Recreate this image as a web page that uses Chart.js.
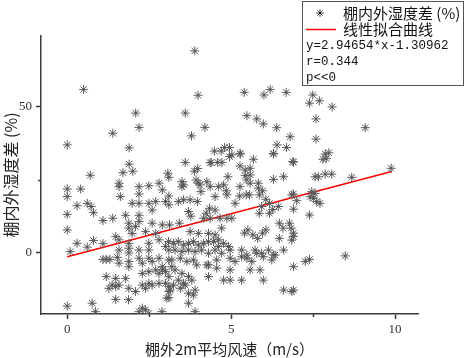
<!DOCTYPE html>
<html>
<head>
<meta charset="utf-8">
<script src="https://cdn.jsdelivr.net/npm/chart.js@4/dist/chart.umd.min.js"></script>
<style>
  body { margin: 0; background: #fff; }
  canvas { display: block; }
</style>
</head>
<body>
<canvas id="myChart" width="467" height="358"></canvas>
<script>
// 棚外2m平均风速 (m/s) 和 棚内外湿度差 (%)
const windX = [
  3.89, 0.50, 3.99, 2.09, 3.60, 2.19, 4.20, 1.39, 3.79, 0.00, 1.89, 4.49, 4.70, 4.80, 4.95, 4.95,
  1.89, 3.60, 4.39, 4.59, 4.72, 1.70, 2.00, 0.70, 3.07, 3.88, 3.98,
  5.40, 6.00, 6.19, 6.68, 7.49, 7.39, 7.69, 8.08, 5.48, 5.78, 5.98, 6.39, 7.59, 9.09, 6.80, 7.59,
  6.69, 6.29, 5.68, 5.28, 6.90, 7.87, 7.98, 7.80, 7.90,
  5.27, 5.43, 5.58, 5.43, 5.58, 5.48, 5.58, 5.27, 5.83, 5.83, 4.90,
  6.29, 6.60, 7.56, 7.66, 7.87, 8.07, 8.68, 9.88,
  0.00, 0.00, 0.41, 1.58, 1.58, 2.19, 2.49, 2.80, 3.10, 1.62, 2.19, 2.19, 1.98, 0.30, 0.61, 0.73,
  0.80, 0.00, 0.00, 1.09, 1.39, 1.78, 2.19, 1.88, 1.88, 2.08, 1.98, 2.19, 2.59, 2.90, 2.70, 3.00,
  3.10, 2.90, 3.10, 2.59, 2.49, 1.58, 1.48, 2.39, 2.70, 0.09, 0.30, 0.61, 0.80, 1.09, 1.88, 1.88,
  1.58, 1.88, 2.19, 2.49, 2.80, 3.00, 2.49, 3.10, 1.09, 1.19, 1.30, 1.53, 1.58, 1.88, 1.88, 2.19,
  2.29, 2.49, 2.59, 2.80, 2.90, 3.10, 2.29, 2.49, 2.70, 2.90, 1.19, 1.48, 1.78, 1.37, 1.48, 1.58,
  1.27, 1.88, 2.08, 2.29, 2.39, 2.49, 2.59, 2.80, 3.00, 3.10, 3.10, 2.80, 3.00, 1.48, 0.76, 0.00,
  0.86, 2.29, 2.39, 2.19, 2.49, 3.10, 3.10, 1.87, 2.89,
  3.50, 3.50, 3.55, 3.93, 4.00, 4.05, 4.26, 4.36, 4.61, 4.77, 4.85, 4.87, 4.51, 4.08, 3.97, 3.75,
  3.55, 3.39, 4.34, 4.51, 4.24, 3.70, 3.77, 3.42, 3.12, 4.16, 4.36, 4.66, 4.87, 5.02, 5.12, 5.26,
  5.46, 5.56, 5.86, 5.96, 6.06, 6.17, 5.93, 5.86, 6.17, 6.27, 6.44, 6.85, 6.78, 6.83, 6.90, 6.47,
  6.58, 6.47, 6.06, 5.96, 5.81, 5.51, 5.41, 5.66,
  3.75, 4.00, 4.31, 4.51, 4.71, 4.61,
  3.09, 3.24, 3.39, 3.55, 3.70, 3.85, 4.00, 4.16, 4.31, 4.46, 4.61, 4.77, 4.92, 3.29, 3.50, 3.70,
  3.90, 4.10, 4.31, 4.51, 4.71, 4.97, 5.32, 5.48, 5.73, 5.93, 6.14, 6.34, 6.60,
  3.19, 3.45, 3.65, 3.85, 3.95, 4.31, 4.56, 4.97, 5.12, 5.32, 5.48, 5.78, 5.98, 6.29, 6.90,
  3.19, 3.29, 3.50, 3.70, 3.39, 3.55, 3.45, 3.80, 3.60, 3.90, 3.70, 3.24, 3.14, 3.85,
  4.26, 4.56, 4.97, 4.31, 4.77, 4.97, 5.32, 5.58, 5.88, 5.98, 5.63, 6.24,
  3.04, 3.70, 3.90, 6.60, 6.90,
  6.90, 7.00, 6.90, 7.46, 7.56, 7.41, 7.51, 7.61, 7.71, 7.39, 6.90, 6.85, 8.48, 7.26, 7.39, 6.85,
  5.02, 5.27, 4.36, 6.29, 6.88, 6.40
];
const rhDiff = [
  69.2, 56.0, 54.0, 47.9, 47.9, 43.0, 43.0, 41.0, 40.1, 37.0, 36.0, 34.9, 34.9, 36.1, 36.1, 33.0,
  30.4, 31.0, 31.0, 31.0, 31.0, 27.5, 28.0, 26.6, 27.3, 28.0, 28.9,
  55.0, 54.1, 56.0, 55.0, 54.1, 51.3, 52.1, 50.0, 47.0, 45.9, 44.2, 42.9, 45.9, 42.9, 39.8, 39.0,
  36.1, 33.9, 32.1, 33.9, 31.1, 33.9, 34.3, 32.1, 32.3,
  29.8, 28.4, 29.0, 26.5, 26.7, 25.0, 23.9, 22.7, 23.9, 22.2, 26.1,
  25.2, 26.1, 26.1, 26.1, 27.0, 27.0, 25.9, 29.0,
  21.9, 19.3, 21.9, 23.9, 22.7, 22.7, 23.0, 23.9, 25.9, 19.3, 20.2, 17.0, 17.0, 16.2, 17.0, 15.9,
  13.8, 13.2, 7.9, 11.1, 11.9, 12.9, 12.9, 10.2, 8.5, 9.0, 6.7, 10.8, 10.2, 9.6, 17.6, 17.6,
  16.5, 21.6, 19.5, 14.7, 17.0, 4.5, 5.6, 7.3, 6.7, 0.45, 3.3, 2.0, 4.3, 3.2, 3.3, 1.6,
  1.0, 0.0, 1.0, 3.3, 4.5, 2.2, 1.0, 1.0, -2.2, -2.2, -2.2, -1.5, -3.5, -2.9, -4.7, -1.8,
  -3.5, -1.8, -2.9, -1.8, -4.7, -2.4, -7.0, -6.4, -5.8, -5.8, -8.1, -8.7, -8.7, -11.0, -11.5, -11.0,
  -12.1, -12.1, -13.2, -11.0, -12.1, -10.4, -11.0, -10.4, -10.4, -11.5, -8.1, -7.0, -6.4, -15.9, -17.2, -18.2,
  -20.1, -18.9, -19.5, -20.1, -20.7, -15.3, -13.2, -16.0, -20.1,
  24.4, 22.7, 23.3, 25.0, 23.9, 23.3, 24.4, 22.7, 22.7, 23.3, 21.3, 19.9, 19.3, 21.0, 17.6, 18.2,
  18.2, 17.6, 15.3, 14.7, 13.6, 14.2, 12.6, 10.2, 9.6, 11.9, 11.9, 11.9, 11.9, 11.9, 17.0, 19.5,
  19.9, 19.9, 19.9, 21.3, 18.4, 17.0, 15.9, 13.6, 13.6, 14.9, 15.9, 19.9, 10.2, 8.5, 6.8, 10.2,
  8.5, 5.0, 7.9, 6.8, 5.0, 7.9, 6.8, 6.2,
  7.3, 6.7, 6.7, 6.2, 8.5, 4.5,
  3.9, 3.3, 3.9, 2.7, 3.3, 3.9, 2.7, 3.3, 3.9, 3.9, 2.2, 3.3, 2.2, 1.0, 0.5, 1.0,
  0.5, 1.0, -0.1, 1.0, -0.1, 1.0, 1.0, -0.7, 1.0, -0.1, 1.0, -0.7, 1.0,
  -2.4, -1.8, -2.9, -2.4, -4.1, -4.1, -2.4, -1.8, -2.9, -1.3, -1.8, -0.1, -1.3, -0.7, -4.7,
  -4.7, -5.8, -7.0, -8.1, -9.3, -10.4, -12.1, -9.3, -11.0, -12.7, -13.8, -11.0, -12.7, -14.4,
  -4.1, -5.2, -5.8, -8.1, -9.3, -9.3, -9.3, -5.8, -5.8, -9.3, -2.9, -2.4,
  -15.5, -17.2, -20.1, -12.7, -12.7,
  20.2, 17.9, 15.0, 21.0, 20.4, 19.3, 18.7, 17.6, 17.0, 13.0, 5.6, 4.4, -1.0, -2.9, -2.2, -13.2,
  33.6, 34.1, 30.9, 34.1, 31.3, 37.0
];

// 线性拟合曲线端点
const fitX = [0, 9.9];
const fitY = [-1.31, 27.9];

const xTickVals = [0, 5, 10];
const xMinorVals = [2.5, 7.5];
const yTickVals = [0, 50];
const yMinorVals = [25];

const legendLines = ['y=2.94654*x-1.30962', 'r=0.344', 'p<<0'];

const axisColor = '#3a3a3a';

function drawStar(ctx, x, y, r) {
    const d = r * Math.SQRT1_2;
    ctx.beginPath();
    ctx.moveTo(x - r, y); ctx.lineTo(x + r, y);
    ctx.moveTo(x, y - r); ctx.lineTo(x, y + r);
    ctx.moveTo(x - d, y - d); ctx.lineTo(x + d, y + d);
    ctx.moveTo(x - d, y + d); ctx.lineTo(x + d, y - d);
    ctx.stroke();
}

const extras = {
    id: 'extras',
    afterDraw(chart) {
        const ctx = chart.ctx;
        const xs = chart.scales.x;
        const ys = chart.scales.y;
        ctx.save();
        // 次刻度
        ctx.strokeStyle = axisColor;
        ctx.lineWidth = 1.5;
        ctx.beginPath();
        xMinorVals.forEach(v => {
            const p = Math.round(xs.getPixelForValue(v)) + 0.5;
            ctx.moveTo(p, ys.bottom);
            ctx.lineTo(p, ys.bottom + 3);
        });
        yMinorVals.forEach(v => {
            const p = Math.round(ys.getPixelForValue(v)) + 0.5;
            ctx.moveTo(xs.left, p);
            ctx.lineTo(xs.left - 3, p);
        });
        ctx.stroke();

        // 图例框
        ctx.fillStyle = '#fff';
        ctx.fillRect(302, 1, 162, 85);
        ctx.strokeStyle = '#555';
        ctx.lineWidth = 1;
        ctx.strokeRect(302.5, 1.5, 161, 84);

        ctx.strokeStyle = '#555';
        ctx.lineWidth = 1;
        drawStar(ctx, 320, 13, 4);
        ctx.fillStyle = '#000';
        ctx.fillRect(319, 12, 2, 2);

        ctx.strokeStyle = '#ff0000';
        ctx.lineWidth = 1.5;
        ctx.beginPath();
        ctx.moveTo(306, 29.5);
        ctx.lineTo(336, 29.5);
        ctx.stroke();

        ctx.fillStyle = '#111';
        ctx.textBaseline = 'middle';
        ctx.font = '15px "Noto Sans CJK SC"';
        ctx.fillText('棚内外湿度差 (%)', 343, 13);
        ctx.fillText('线性拟合曲线', 343, 29);
        ctx.font = '12.5px "Liberation Mono"';
        legendLines.forEach((t, i) => ctx.fillText(t, 306, 46 + i * 16));
        ctx.restore();
    }
};

const points = windX.map((x, i) => ({ x: x, y: rhDiff[i] }));

const ctx = document.getElementById('myChart').getContext('2d');
const myChart = new Chart(ctx, {
    type: 'scatter',
    data: {
        datasets: [
            {
                label: '棚内外湿度差 (%)',
                data: points,
                pointStyle: 'star',
                pointRadius: 4.5,
                borderColor: '#5a5a5a',
                backgroundColor: '#5a5a5a',
                borderWidth: 1,
                clip: 0
            },
            {
                // 星号中心的黑点
                label: 'center',
                data: points,
                pointStyle: 'rect',
                pointRadius: 1.3,
                borderWidth: 0,
                backgroundColor: '#000',
                clip: 0
            },
            {
                type: 'line',
                label: '线性拟合曲线',
                data: fitX.map((x, i) => ({ x: x, y: fitY[i] })),
                borderColor: '#ff0000',
                borderWidth: 1.5,
                pointRadius: 0,
                fill: false
            }
        ]
    },
    options: {
        responsive: false,
        animation: false,
        events: [],
        layout: {
            padding: { top: 36, right: 49, left: 0, bottom: 0 }
        },
        scales: {
            x: {
                type: 'linear',
                min: -0.8,
                max: 10.7,
                afterFit: (scale) => { scale.height = 44; },
                afterBuildTicks: (scale) => { scale.ticks = xTickVals.map(v => ({ value: v })); },
                border: { display: true, color: axisColor, width: 1.5 },
                grid: { drawOnChartArea: false, drawTicks: true, tickLength: 5, tickColor: axisColor, tickWidth: 1.5 },
                ticks: {
                    color: '#333',
                    padding: 3,
                    maxRotation: 0,
                    font: { family: 'Liberation Serif', size: 13 }
                },
                title: {
                    display: true,
                    text: '棚外2m平均风速（m/s）',
                    color: '#222',
                    padding: { top: 0, bottom: 0 },
                    font: { family: 'Noto Sans CJK SC', size: 15 }
                }
            },
            y: {
                type: 'linear',
                min: -20.9,
                max: 74.3,
                afterFit: (scale) => { scale.width = 41; },
                afterBuildTicks: (scale) => { scale.ticks = yTickVals.map(v => ({ value: v })); },
                border: { display: true, color: axisColor, width: 1.5 },
                grid: { drawOnChartArea: false, drawTicks: true, tickLength: 5, tickColor: axisColor, tickWidth: 1.5 },
                ticks: {
                    color: '#333',
                    padding: 4,
                    font: { family: 'Liberation Serif', size: 13 }
                },
                title: {
                    display: true,
                    text: '棚内外湿度差 (%)',
                    color: '#222',
                    padding: { top: 1, bottom: 0 },
                    font: { family: 'Noto Sans CJK SC', size: 16 }
                }
            }
        },
        plugins: {
            legend: { display: false },
            tooltip: { enabled: false }
        }
    },
    plugins: [extras]
});
</script>
</body>
</html>
